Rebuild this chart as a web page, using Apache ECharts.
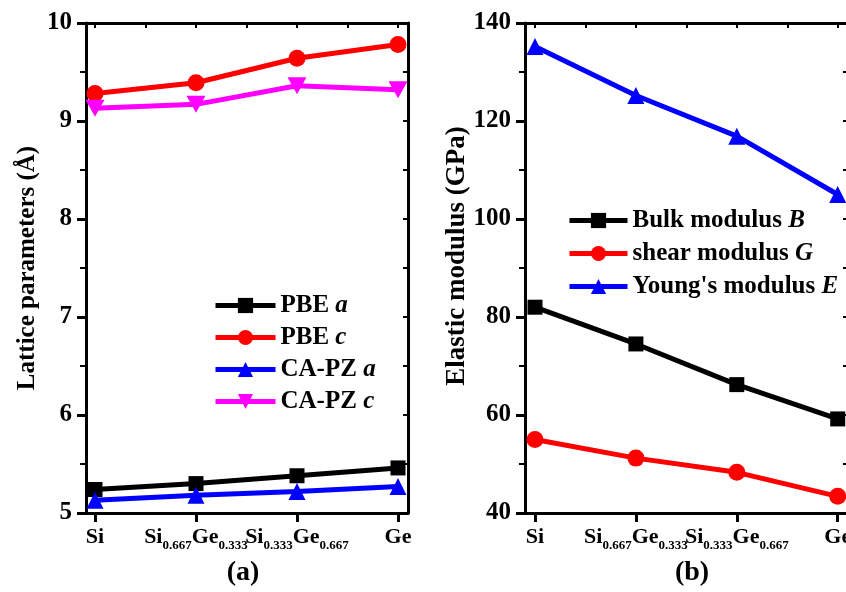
<!DOCTYPE html>
<html>
<head>
<meta charset="utf-8">
<script src="https://cdn.jsdelivr.net/npm/echarts@6/dist/echarts.min.js"></script>
<style>html,body{margin:0;padding:0;background:#fff}#c{width:846px;height:592px}</style>
</head>
<body>
<div id="c"></div>
<script>
// ---- data ----
var categories = ['Si', 'Si0.667Ge0.333', 'Si0.333Ge0.667', 'Ge'];
var catIndex = [0, 1, 2, 3];
var pbeA = [5.24, 5.30, 5.38, 5.46];
var pbeC = [9.28, 9.39, 9.64, 9.78];
var capzA = [5.13, 5.18, 5.22, 5.27];
var capzC = [9.13, 9.17, 9.36, 9.32];
var bulkB = [82.0, 74.5, 66.2, 59.2];
var shearG = [55.0, 51.2, 48.3, 43.4];
var youngE = [135.2, 125.2, 116.9, 105.0];
var mirrorTicks = [0, 0.5, 1, 1.5, 2, 2.5, 3];

var FONT = '"Liberation Serif","Times New Roman",serif';
function pairs(vals) { return vals.map(function (v, i) { return [catIndex[i], v]; }); }
function catLabel(v) {
  var i = Math.round(v);
  var s = categories[i];
  if (s === undefined) return '';
  return s.replace(/([A-Z][a-z]?)(\d\.\d+)?/g, function (m, el, sub) {
    return '{m|' + el + '}' + (sub ? '{s|' + sub + '}' : '');
  });
}
var labelRich = {
  m: { fontFamily: FONT, fontWeight: 'bold', fontSize: 22, lineHeight: 22, verticalAlign: 'top', color: '#000' },
  s: { fontFamily: FONT, fontWeight: 'bold', fontSize: 13, lineHeight: 13, padding: [13, 0, 0, 0], verticalAlign: 'top', color: '#000' }
};
var legendRich = {
  r: { fontFamily: FONT, fontWeight: 'bold', fontSize: 25, color: '#000' },
  i: { fontFamily: FONT, fontWeight: 'bold', fontStyle: 'italic', fontSize: 25, color: '#000' }
};
function legendFmt(name) {
  var k = name.lastIndexOf(' ');
  return '{r|' + name.slice(0, k + 1) + '}{i|' + name.slice(k + 1) + '}';
}
var axisLine = { onZero: false, lineStyle: { color: '#000', width: 3 } };

function bottomX(gi, min, max) {
  return {
    type: 'value', gridIndex: gi, position: 'bottom', min: min, max: max,
    axisLine: axisLine, splitLine: { show: false },
    axisTick: { customValues: catIndex, inside: false, length: 9, lineStyle: { width: 3, color: '#000' } },
    axisLabel: { customValues: catIndex, formatter: catLabel, rich: labelRich, margin: 13, color: '#000' }
  };
}
function topX(gi, min, max) {
  return {
    type: 'value', gridIndex: gi, position: 'top', min: min, max: max,
    axisLine: axisLine, splitLine: { show: false },
    axisTick: { customValues: mirrorTicks, inside: true, length: 5, lineStyle: { width: 2, color: '#000' } },
    axisLabel: { show: false }
  };
}
function leftY(gi, min, max, interval, name, gap, nameSize, namePad) {
  return {
    type: 'value', gridIndex: gi, position: 'left', min: min, max: max, interval: interval,
    axisLine: axisLine, splitLine: { show: false },
    axisTick: { inside: false, length: 9, lineStyle: { width: 3, color: '#000' } },
    minorTick: { show: true, splitNumber: 2, length: 6, lineStyle: { width: 2, color: '#000' } },
    axisLabel: { fontFamily: FONT, fontWeight: 'bold', fontSize: 25, color: '#000', margin: 14 },
    name: name, nameLocation: 'middle', nameRotate: 90, nameGap: gap, nameMoveOverlap: false,
    nameTextStyle: { fontFamily: FONT, fontWeight: 'bold', fontSize: nameSize, color: '#000', padding: namePad }
  };
}
function rightY(gi, min, max, interval) {
  return {
    type: 'value', gridIndex: gi, position: 'right', min: min, max: max, interval: interval,
    axisLine: axisLine, splitLine: { show: false },
    axisTick: { inside: true, length: 5, lineStyle: { width: 2, color: '#000' } },
    minorTick: { show: true, splitNumber: 2, length: 5, lineStyle: { width: 2, color: '#000' } },
    axisLabel: { show: false }
  };
}
var downTri = 'path://M0,0L20,0L10,17.3Z';
function series(name, vals, color, symbol, size, xi, yi) {
  return {
    type: 'line', name: name, data: pairs(vals), xAxisIndex: xi, yAxisIndex: yi,
    symbol: symbol, symbolSize: size, showSymbol: true,
    lineStyle: { color: color, width: 5 }, itemStyle: { color: color },
    z: 5
  };
}

var chart = echarts.init(document.getElementById('c'), null, { renderer: 'canvas' });
chart.setOption({
  animation: false,
  backgroundColor: '#fff',
  grid: [
    { left: 86, top: 23, width: 322, height: 490, outerBoundsMode: 'none', containLabel: false },
    { left: 525, top: 23, width: 323, height: 490, outerBoundsMode: 'none', containLabel: false }
  ],
  xAxis: [bottomX(0, -0.089, 3.099), topX(0, -0.089, 3.099), bottomX(1, -0.099, 3.102), topX(1, -0.099, 3.102)],
  yAxis: [
    leftY(0, 5, 10, 1, 'Lattice parameters (Å)', 46, 25, 0), rightY(0, 5, 10, 1),
    leftY(1, 40, 140, 20, 'Elastic modulus (GPa)', 54, 27, [0, 0, 0, 24]), rightY(1, 40, 140, 20)
  ],
  legend: [
    {
      data: ['PBE a', 'PBE c', 'CA-PZ a', 'CA-PZ c'], orient: 'vertical', left: 213, top: 293, padding: 0,
      itemWidth: 60, itemHeight: 19, itemGap: 7, formatter: legendFmt,
      lineStyle: { width: 5 },
      textStyle: { rich: legendRich, lineHeight: 24 }, selectedMode: false
    },
    {
      data: ['Bulk modulus B', 'shear modulus G', "Young's modulus E"], orient: 'vertical', left: 567, top: 208, padding: 0,
      itemWidth: 58, itemHeight: 19, itemGap: 8, formatter: legendFmt,
      lineStyle: { width: 5 },
      textStyle: { rich: legendRich, lineHeight: 24 }, selectedMode: false
    }
  ],
  series: [
    series('PBE a', pbeA, '#000000', 'rect', 15, 0, 0),
    series('PBE c', pbeC, '#ff0000', 'circle', 17, 0, 0),
    series('CA-PZ a', capzA, '#0000ff', 'triangle', 17, 0, 0),
    series('CA-PZ c', capzC, '#ff00ff', downTri, [19, 17], 0, 0),
    series('Bulk modulus B', bulkB, '#000000', 'rect', 15, 2, 2),
    series('shear modulus G', shearG, '#ff0000', 'circle', 17, 2, 2),
    series("Young's modulus E", youngE, '#0000ff', 'triangle', 17, 2, 2)
  ],
  graphic: [
    { type: 'text', x: 243, y: 573, style: { text: '(a)', font: 'bold 28px ' + FONT, fill: '#000', align: 'center', verticalAlign: 'middle' } },
    { type: 'text', x: 692, y: 573, style: { text: '(b)', font: 'bold 28px ' + FONT, fill: '#000', align: 'center', verticalAlign: 'middle' } }
  ]
});
</script>
</body>
</html>
